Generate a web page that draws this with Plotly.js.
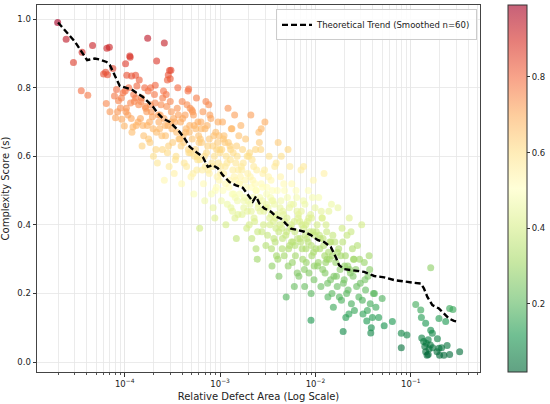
<!DOCTYPE html>
<html>
<head>
<meta charset="utf-8">
<script src="https://cdn.plot.ly/plotly-3.0.1.min.js"></script>
<style>html,body{margin:0;padding:0;background:#fff;}#chart{width:550px;height:404px;}</style>
</head>
<body>
<div id="chart"></div>
<script>
// ---- data ----
const defectArea = [
  // sparse upper-left points
  1.98e-5,2.43e-5,2.9e-5,3.57e-5,3.5e-5,4.1e-5,4.6e-5,6.5e-5,6.9e-5,6.0e-5,6.3e-5,6.6e-5,7.5e-5,6.4e-5,7.0e-5,7.8e-5,
  8.2e-5,8.6e-5,9.0e-5,9.3e-5,9.6e-5,8.0e-5,9.9e-5,1.02e-4,1.13e-4,1.14e-4,1.05e-4,1.18e-4,1.3e-4,1.42e-4,1.74e-4,2.6e-4,2.16e-4,3.05e-4,1.87e-4,2.09e-4,2.86e-4,3.0e-4,2.8e-4,2.95e-4,4.68e-4,
  // 1e-4 decade
  1.01e-4,1.08e-4,1.15e-4,1.22e-4,1.30e-4,1.38e-4,1.04e-4,1.19e-4,1.34e-4,1.26e-4,
  1.48e-4,1.55e-4,1.62e-4,1.70e-4,1.78e-4,1.86e-4,1.95e-4,2.05e-4,2.15e-4,2.25e-4,1.52e-4,1.66e-4,1.82e-4,2.00e-4,2.20e-4,
  2.35e-4,2.45e-4,2.55e-4,2.65e-4,2.75e-4,2.88e-4,3.00e-4,3.12e-4,3.25e-4,3.40e-4,3.55e-4,3.70e-4,2.50e-4,2.80e-4,3.05e-4,3.30e-4,3.60e-4,2.60e-4,
  3.85e-4,4.00e-4,4.15e-4,4.30e-4,4.45e-4,4.60e-4,4.75e-4,4.90e-4,5.05e-4,5.20e-4,5.35e-4,5.50e-4,5.65e-4,5.80e-4,5.95e-4,3.95e-4,4.40e-4,4.85e-4,5.30e-4,5.75e-4,
  6.10e-4,6.35e-4,6.60e-4,6.85e-4,7.10e-4,7.40e-4,7.70e-4,8.00e-4,8.30e-4,8.60e-4,8.90e-4,9.20e-4,9.50e-4,9.80e-4,6.20e-4,6.90e-4,7.60e-4,8.20e-4,8.80e-4,9.40e-4,6.50e-4,7.30e-4,
  // 1e-3 decade
  1.00e-3,1.03e-3,1.06e-3,1.09e-3,1.12e-3,1.15e-3,1.18e-3,1.21e-3,1.24e-3,1.27e-3,1.30e-3,1.33e-3,1.36e-3,1.39e-3,1.42e-3,1.45e-3,1.48e-3,1.51e-3,1.54e-3,1.57e-3,1.02e-3,1.14e-3,1.29e-3,1.44e-3,
  1.60e-3,1.65e-3,1.70e-3,1.75e-3,1.80e-3,1.85e-3,1.90e-3,1.95e-3,2.00e-3,2.05e-3,2.10e-3,2.15e-3,2.20e-3,2.25e-3,2.30e-3,2.35e-3,2.40e-3,2.45e-3,2.50e-3,2.55e-3,1.63e-3,1.78e-3,1.93e-3,2.13e-3,2.38e-3,
  2.60e-3,2.67e-3,2.74e-3,2.81e-3,2.88e-3,2.95e-3,3.02e-3,3.10e-3,3.18e-3,3.26e-3,3.34e-3,3.42e-3,3.50e-3,3.58e-3,3.66e-3,3.74e-3,3.82e-3,3.90e-3,3.98e-3,4.06e-3,4.14e-3,2.70e-3,3.05e-3,3.45e-3,3.85e-3,
  4.25e-3,4.38e-3,4.51e-3,4.65e-3,4.79e-3,4.93e-3,5.08e-3,5.23e-3,5.39e-3,5.55e-3,5.72e-3,5.89e-3,6.07e-3,6.25e-3,6.44e-3,6.63e-3,4.30e-3,4.70e-3,5.15e-3,5.60e-3,6.00e-3,6.40e-3,4.45e-3,5.35e-3,
  6.85e-3,7.05e-3,7.25e-3,7.45e-3,7.65e-3,7.90e-3,8.15e-3,8.40e-3,8.97e-3,8.90e-3,9.15e-3,9.40e-3,9.65e-3,9.90e-3,7.00e-3,7.50e-3,8.00e-3,8.50e-3,9.00e-3,9.50e-3,7.80e-3,
  // 1e-2 decade
  1.02e-2,1.05e-2,1.08e-2,1.11e-2,1.14e-2,1.17e-2,1.20e-2,1.23e-2,1.26e-2,1.29e-2,1.32e-2,1.35e-2,1.38e-2,1.41e-2,1.44e-2,1.47e-2,1.50e-2,1.54e-2,1.10e-2,1.28e-2,
  1.60e-2,1.66e-2,1.72e-2,1.78e-2,1.84e-2,1.90e-2,1.96e-2,2.02e-2,2.08e-2,2.14e-2,2.20e-2,2.26e-2,2.32e-2,2.38e-2,2.44e-2,2.50e-2,2.56e-2,1.95e-2,1.70e-2,2.28e-2,
  2.65e-2,2.75e-2,2.85e-2,2.95e-2,3.05e-2,3.15e-2,3.25e-2,3.35e-2,3.45e-2,3.55e-2,3.65e-2,3.75e-2,3.85e-2,3.80e-2,4.05e-2,
  5.25e-2,6.4e-2,7.94e-2,7.94e-2,9.1e-2,4.3e-2,4.6e-2,5.0e-2,
  // 1e-1 decade
  0.1125,0.127,0.129,0.143,0.1615,0.168,0.197,0.255,0.276,0.232,0.1615,
  0.13,0.136,0.145,0.152,0.16,0.14,0.155,0.17,0.19,0.197,0.21,
  0.143,0.148,0.152,0.188,0.2,0.222,0.255,0.325,0.24,
  // denser core
  1.03e-4,1.10e-4,1.17e-4,1.24e-4,1.32e-4,1.40e-4,8.4e-5,9.2e-5,
  1.46e-4,1.50e-4,1.58e-4,1.64e-4,1.72e-4,1.76e-4,1.84e-4,1.90e-4,1.98e-4,2.08e-4,2.12e-4,2.28e-4,
  2.32e-4,2.40e-4,2.48e-4,2.58e-4,2.68e-4,2.72e-4,2.84e-4,2.92e-4,3.08e-4,3.18e-4,3.35e-4,3.45e-4,3.50e-4,3.65e-4,3.78e-4,
  3.90e-4,4.05e-4,4.20e-4,4.35e-4,4.50e-4,4.65e-4,4.80e-4,4.95e-4,5.10e-4,5.25e-4,5.40e-4,5.55e-4,5.70e-4,5.85e-4,6.00e-4,4.10e-4,4.70e-4,5.15e-4,
  6.15e-4,6.40e-4,6.70e-4,6.95e-4,7.20e-4,7.50e-4,7.80e-4,8.10e-4,8.40e-4,8.70e-4,9.00e-4,9.30e-4,9.60e-4,9.90e-4,6.30e-4,7.00e-4,7.70e-4,8.45e-4,9.15e-4,9.75e-4,
  1.01e-3,1.04e-3,1.07e-3,1.10e-3,1.13e-3,1.16e-3,1.19e-3,1.22e-3,1.25e-3,1.28e-3,1.31e-3,1.34e-3,1.37e-3,1.40e-3,1.43e-3,1.46e-3,1.49e-3,1.52e-3,1.55e-3,1.58e-3,1.08e-3,1.35e-3,
  1.61e-3,1.67e-3,1.72e-3,1.77e-3,1.82e-3,1.87e-3,1.92e-3,1.97e-3,2.02e-3,2.07e-3,2.12e-3,2.17e-3,2.22e-3,2.27e-3,2.32e-3,2.37e-3,2.42e-3,2.47e-3,2.52e-3,2.58e-3,1.69e-3,2.04e-3,
  2.63e-3,2.70e-3,2.77e-3,2.85e-3,2.92e-3,2.99e-3,3.07e-3,3.14e-3,3.22e-3,3.30e-3,3.38e-3,3.46e-3,3.54e-3,3.62e-3,3.70e-3,3.78e-3,3.87e-3,3.95e-3,4.03e-3,4.12e-3,2.80e-3,3.50e-3,
  4.22e-3,4.34e-3,4.47e-3,4.60e-3,4.74e-3,4.88e-3,5.02e-3,5.17e-3,5.32e-3,5.48e-3,5.64e-3,5.81e-3,5.98e-3,6.16e-3,6.34e-3,6.52e-3,6.70e-3,4.55e-3,5.00e-3,5.50e-3,6.10e-3,6.60e-3,
  6.90e-3,7.10e-3,7.35e-3,7.55e-3,7.75e-3,7.95e-3,8.25e-3,8.55e-3,8.75e-3,9.05e-3,9.30e-3,9.55e-3,9.80e-3,7.20e-3,7.70e-3,8.35e-3,9.10e-3,9.70e-3,
  1.01e-2,1.04e-2,1.07e-2,1.12e-2,1.15e-2,1.19e-2,1.22e-2,1.25e-2,1.31e-2,1.34e-2,1.37e-2,1.40e-2,1.45e-2,1.49e-2,1.52e-2,1.56e-2,1.18e-2,
  1.63e-2,1.69e-2,1.75e-2,1.81e-2,1.87e-2,1.93e-2,2.00e-2,2.06e-2,2.12e-2,2.18e-2,2.24e-2,2.36e-2,2.48e-2,2.54e-2,
  2.70e-2,2.90e-2,3.10e-2,3.30e-2,3.50e-2,3.70e-2,3.95e-2,4.15e-2
];
const complexityScore = [
  0.990,0.941,0.873,0.903,0.791,0.778,0.923,0.915,0.918,0.840,0.845,0.838,0.856,0.754,0.730,0.776,
  0.795,0.762,0.741,0.708,0.785,0.712,0.688,0.870,0.892,0.889,0.836,0.834,0.836,0.822,0.944,0.930,0.878,0.851,0.800,0.807,0.837,0.826,0.822,0.850,0.796,
  0.79,0.72,0.755,0.685,0.77,0.70,0.74,0.67,0.805,0.76,
  0.76,0.69,0.80,0.73,0.65,0.75,0.715,0.78,0.67,0.72,0.63,0.74,0.70,0.60,0.58,
  0.72,0.66,0.79,0.69,0.745,0.63,0.76,0.68,0.71,0.59,0.74,0.65,0.77,0.61,0.70,0.55,0.80,0.53,
  0.70,0.76,0.64,0.72,0.57,0.79,0.67,0.61,0.735,0.55,0.69,0.62,0.77,0.59,0.66,0.52,0.68,0.74,0.49,0.60,
  0.39,0.68,0.73,0.60,0.76,0.63,0.55,0.71,0.57,0.66,0.50,0.62,0.70,0.53,0.65,0.47,0.75,0.58,0.42,0.64,0.56,0.69,
  0.61,0.47,0.70,0.55,0.64,0.40,0.58,0.74,0.51,0.63,0.45,0.68,0.56,0.49,0.72,0.53,0.36,0.60,0.43,0.66,0.57,0.52,0.62,0.48,
  0.52,0.69,0.43,0.58,0.48,0.65,0.39,0.55,0.60,0.46,0.72,0.36,0.53,0.57,0.41,0.62,0.50,0.30,0.45,0.67,0.54,0.47,0.44,0.51,0.33,
  0.48,0.62,0.38,0.55,0.44,0.70,0.34,0.51,0.45,0.60,0.40,0.53,0.28,0.47,0.36,0.57,0.42,0.31,0.50,0.64,0.25,0.68,0.46,0.43,0.39,
  0.45,0.60,0.36,0.52,0.41,0.19,0.48,0.33,0.57,0.40,0.29,0.46,0.38,0.50,0.26,0.43,0.54,0.31,0.62,0.35,0.22,0.44,0.39,0.34,
  0.41,0.56,0.33,0.47,0.27,0.40,0.36,0.50,0.122,0.43,0.31,0.38,0.24,0.45,0.35,0.57,0.29,0.42,0.20,0.53,0.37,
  0.38,0.28,0.48,0.33,0.22,0.42,0.36,0.55,0.26,0.40,0.30,0.19,0.44,0.35,0.24,0.46,0.31,0.16,0.37,0.29,
  0.35,0.25,0.45,0.19,0.31,0.39,0.23,0.28,0.13,0.37,0.21,0.42,0.26,0.17,0.33,0.30,0.15,0.089,0.32,0.27,
  0.27,0.34,0.19,0.23,0.40,0.14,0.29,0.21,0.12,0.25,0.31,0.17,0.10,0.085,0.20,
  0.106,0.118,0.084,0.042,0.079,0.16,0.13,0.185,
  0.168,0.152,0.130,0.113,0.093,0.084,0.127,0.156,0.153,0.118,0.275,
  0.070,0.060,0.055,0.065,0.050,0.045,0.038,0.042,0.068,0.040,0.042,
  0.030,0.020,0.022,0.030,0.020,0.020,0.022,0.030,0.048,
  // denser core
  0.73,0.80,0.71,0.78,0.69,0.75,0.73,0.77,
  0.71,0.77,0.66,0.745,0.69,0.79,0.64,0.73,0.68,0.755,0.62,0.70,
  0.68,0.75,0.62,0.71,0.66,0.78,0.69,0.57,0.73,0.64,0.70,0.60,0.67,0.72,0.65,
  0.63,0.71,0.58,0.67,0.75,0.62,0.69,0.54,0.65,0.72,0.60,0.68,0.56,0.70,0.64,0.66,0.61,0.73,
  0.59,0.64,0.52,0.68,0.61,0.56,0.72,0.49,0.63,0.60,0.67,0.54,0.58,0.62,0.70,0.57,0.65,0.45,0.51,0.66,
  0.55,0.62,0.50,0.66,0.57,0.60,0.46,0.64,0.53,0.59,0.68,0.49,0.61,0.54,0.42,0.58,0.63,0.47,0.56,0.52,0.65,0.44,
  0.49,0.57,0.62,0.45,0.53,0.51,0.60,0.47,0.40,0.54,0.44,0.59,0.48,0.42,0.52,0.50,0.56,0.38,0.46,0.64,0.56,0.61,
  0.44,0.52,0.47,0.40,0.56,0.45,0.49,0.37,0.54,0.42,0.48,0.33,0.50,0.41,0.46,0.35,0.58,0.43,0.30,0.38,0.51,0.47,
  0.40,0.47,0.33,0.43,0.50,0.37,0.42,0.28,0.45,0.39,0.52,0.35,0.41,0.31,0.48,0.36,0.25,0.44,0.38,0.46,0.34,0.42,
  0.36,0.44,0.30,0.39,0.46,0.33,0.41,0.26,0.38,0.34,0.48,0.32,0.37,0.40,0.22,0.35,0.42,0.28,
  0.33,0.40,0.29,0.36,0.44,0.27,0.34,0.31,0.38,0.23,0.32,0.30,0.35,0.20,0.37,0.25,0.42,
  0.29,0.22,0.33,0.27,0.18,0.35,0.24,0.31,0.20,0.28,0.14,0.38,0.25,0.30,
  0.22,0.30,0.18,0.24,0.15,0.27,0.13,0.20
];
const trendArea = [2.0e-5,2.45e-5,3.0e-5,3.52e-5,4.03e-5,4.30e-5,4.85e-5,5.47e-5,6.44e-5,6.97e-5,7.55e-5,8.19e-5,8.87e-5,1.0e-4,
  1.175e-4,1.325e-4,1.55e-4,1.75e-4,1.98e-4,2.23e-4,2.52e-4,2.96e-4,3.33e-4,3.76e-4,4.24e-4,4.79e-4,5.63e-4,6.59e-4,7.43e-4,8.39e-4,9.46e-4,
  1.067e-3,1.253e-3,1.47e-3,1.73e-3,2.03e-3,2.20e-3,2.38e-3,2.58e-3,2.91e-3,3.42e-3,3.86e-3,4.35e-3,4.91e-3,5.54e-3,6.49e-3,7.62e-3,8.95e-3,
  1.05e-2,1.235e-2,1.45e-2,1.64e-2,1.77e-2,2.0e-2,2.54e-2,3.24e-2,4.12e-2,5.25e-2,6.67e-2,8.49e-2,
  0.108,0.127,0.137,0.149,0.168,0.197,0.222,0.251,0.283,0.314];
const trendScore = [0.990,0.962,0.934,0.905,0.880,0.882,0.885,0.882,0.875,0.866,0.846,0.822,0.805,0.801,
  0.795,0.785,0.773,0.759,0.744,0.725,0.710,0.700,0.686,0.671,0.652,0.628,0.612,0.598,0.569,0.574,0.565,
  0.545,0.525,0.515,0.508,0.483,0.468,0.483,0.462,0.448,0.438,0.424,0.418,0.403,0.389,0.385,0.380,0.370,
  0.356,0.350,0.335,0.305,0.282,0.271,0.266,0.263,0.251,0.247,0.239,0.234,
  0.231,0.229,0.215,0.190,0.166,0.156,0.142,0.127,0.120,0.117];
const xTickValues = [1e-4, 1e-3, 1e-2, 1e-1];
const xTickLabels = ['10<sup>−4</sup>', '10<sup>−3</sup>', '10<sup>−2</sup>', '10<sup>−1</sup>'];
const yTickValues = [0, 0.2, 0.4, 0.6, 0.8, 1.0];
const yTickLabels = ['0.0', '0.2', '0.4', '0.6', '0.8', '1.0'];
const cbTickValues = [0.2, 0.4, 0.6, 0.8];

// RdYlGn reversed, semi-transparent
const a = 0.62;
const rdylgnR = [
  [0.0, 'rgba(0,104,55,'+a+')'], [0.1, 'rgba(26,152,80,'+a+')'], [0.2, 'rgba(102,189,99,'+a+')'],
  [0.3, 'rgba(166,217,106,'+a+')'], [0.4, 'rgba(217,239,139,'+a+')'], [0.5, 'rgba(255,255,191,'+a+')'],
  [0.6, 'rgba(254,224,139,'+a+')'], [0.7, 'rgba(253,174,97,'+a+')'], [0.8, 'rgba(244,109,67,'+a+')'],
  [0.9, 'rgba(215,48,39,'+a+')'], [1.0, 'rgba(165,0,38,'+a+')']
];

const font = 'DejaVu Sans, Liberation Sans, sans-serif';
const gridC = '#e6e6e6';

const scatter = {
  type: 'scatter', mode: 'markers',
  x: defectArea, y: complexityScore,
  showlegend: false, hoverinfo: 'skip',
  marker: {
    size: 7, color: complexityScore, colorscale: rdylgnR, line: {width: 0},
    showscale: true,
    colorbar: {
      x: 1.061, xanchor: 'left', y: 0.5, yanchor: 'middle', len: 1, lenmode: 'fraction',
      thickness: 19, thicknessmode: 'pixels', xpad: 0, ypad: 0,
      outlinewidth: 1, outlinecolor: '#333',
      ticks: 'outside', ticklen: 3, tickwidth: 1, tickcolor: '#333',
      tickvals: cbTickValues, tickfont: {family: font, size: 8.5, color: '#222'}
    }
  }
};
const trend = {
  type: 'scatter', mode: 'lines',
  x: trendArea, y: trendScore,
  name: 'Theoretical Trend (Smoothed n=60)',
  line: {color: '#000', width: 2.4, dash: '6px,3px'},
  hoverinfo: 'skip'
};

const layout = {
  width: 550, height: 404,
  margin: {l: 37, r: 69, t: 5, b: 32},
  paper_bgcolor: '#fff', plot_bgcolor: '#fff',
  font: {family: font, size: 8.5, color: '#222'},
  xaxis: {
    type: 'log', range: [-4.92, -0.275],
    tickmode: 'array', tickvals: xTickValues, ticktext: xTickLabels,
    ticks: 'outside', ticklen: 3.5, tickcolor: '#333',
    showgrid: true, gridcolor: gridC, gridwidth: 0.8,
    minor: {dtick: 'D1', showgrid: true, gridcolor: gridC, gridwidth: 0.8, ticks: 'outside', ticklen: 2, tickcolor: '#555'},
    showline: true, linecolor: '#444', linewidth: 1, mirror: true,
    zeroline: false,
    tickfont: {family: font, size: 8.5, color: '#222'},
    title: {text: 'Relative Defect Area (Log Scale)', font: {family: font, size: 10, color: '#222'}, standoff: 5}
  },
  yaxis: {
    range: [-0.029, 1.041],
    tickmode: 'array', tickvals: yTickValues, ticktext: yTickLabels,
    ticks: 'outside', ticklen: 3.5, tickcolor: '#333',
    showgrid: true, gridcolor: gridC, gridwidth: 0.8,
    showline: true, linecolor: '#444', linewidth: 1, mirror: true,
    zeroline: false,
    tickfont: {family: font, size: 8.5, color: '#222'},
    title: {text: 'Complexity Score (s)', font: {family: font, size: 10, color: '#222'}, standoff: 6}
  },
  legend: {
    x: 0.991, y: 0.988, xanchor: 'right', yanchor: 'top',
    bgcolor: 'rgba(255,255,255,0.85)', bordercolor: '#cccccc', borderwidth: 1,
    font: {family: font, size: 8.5, color: '#222'},
    itemwidth: 30, tracegroupgap: 0
  }
};

Plotly.newPlot('chart', [scatter, trend], layout, {staticPlot: true, displayModeBar: false});
</script>
</body>
</html>
